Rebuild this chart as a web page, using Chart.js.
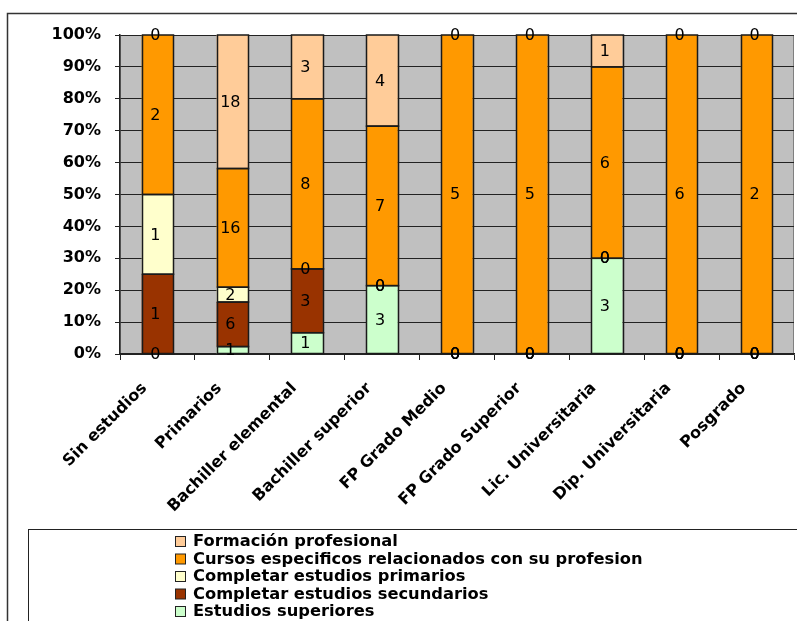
<!DOCTYPE html>
<html>
<head>
<meta charset="utf-8">
<script src="https://cdn.jsdelivr.net/npm/chart.js@4/dist/chart.umd.min.js"></script>
<style>
  html, body { margin: 0; padding: 0; background: #fff; }
  canvas { display: block; }
</style>
</head>
<body>
<canvas id="chart" width="797" height="621"></canvas>
<script>
const categories = [
  'Sin estudios', 'Primarios', 'Bachiller elemental', 'Bachiller superior',
  'FP Grado Medio', 'FP Grado Superior', 'Lic. Universitaria',
  'Dip. Universitaria', 'Posgrado'
]

// counts per category, stacked bottom to top
const estudiosSuperiores   = [0, 1, 1, 3, 0, 0, 3, 0, 0]
const estudiosSecundarios  = [1, 6, 3, 0, 0, 0, 0, 0, 0]
const estudiosPrimarios    = [1, 2, 0, 0, 0, 0, 0, 0, 0]
const cursosEspecificos    = [2, 16, 8, 7, 5, 5, 6, 6, 2]
const formacionProfesional = [0, 18, 3, 4, 0, 0, 1, 0, 0]

const seriesNames = [
  'Estudios superiores',
  'Completar estudios secundarios',
  'Completar estudios primarios',
  'Cursos especificos relacionados con su profesion',
  'Formación profesional',
]
const seriesValues = [
  estudiosSuperiores, estudiosSecundarios, estudiosPrimarios,
  cursosEspecificos, formacionProfesional,
]
const seriesColors = ['#ccffcc', '#993300', '#ffffcc', '#ff9900', '#ffcc99']

const yTicks = [0, 10, 20, 30, 40, 50, 60, 70, 80, 90, 100]

const FONT = 'DejaVu Sans'

const totals = categories.map((_, i) => seriesValues.reduce((s, arr) => s + arr[i], 0))

const datasets = seriesValues.map((vals, k) => ({
  label: seriesNames[k],
  raw: vals,
  data: vals.map((v, i) => totals[i] ? v / totals[i] * 100 : 0),
  backgroundColor: seriesColors[k],
  borderWidth: 0,
  categoryPercentage: 1,
  barPercentage: 0.42,
}))

// grey plot background and outer frames
const framePlugin = {
  id: 'frame',
  beforeDraw(chart) {
    const { ctx, chartArea: { left, right, top, bottom } } = chart
    ctx.save()
    ctx.fillStyle = '#fff'
    ctx.fillRect(0, 0, chart.width, chart.height)
    ctx.strokeStyle = '#333'
    ctx.lineWidth = 1.5
    ctx.strokeRect(7.5, 13.5, 900, 900)
    ctx.fillStyle = '#c0c0c0'
    ctx.fillRect(left, top, right - left, bottom - top)
    ctx.strokeStyle = '#808080'
    ctx.lineWidth = 1
    ctx.strokeRect(left + 0.5, top + 0.5, right - left - 1, bottom - top)
    ctx.restore()
  },
}

// segment outlines, then the count in the middle of each segment
const segmentDecor = {
  id: 'segmentDecor',
  afterDatasetsDraw(chart) {
    const { ctx } = chart
    ctx.save()
    ctx.strokeStyle = '#1a1a1a'
    ctx.lineWidth = 1.5
    chart.data.datasets.forEach((ds, k) => {
      chart.getDatasetMeta(k).data.forEach((bar, i) => {
        if (!ds.raw[i]) return
        const x0 = Math.round(bar.x - bar.width / 2)
        const x1 = Math.round(bar.x + bar.width / 2)
        ctx.strokeRect(x0 + 0.5, Math.min(bar.y, bar.base), x1 - x0, Math.abs(bar.base - bar.y))
      })
    })
    ctx.fillStyle = '#000'
    ctx.font = `16px ${FONT}`
    ctx.textAlign = 'center'
    ctx.textBaseline = 'middle'
    chart.data.datasets.forEach((ds, k) => {
      chart.getDatasetMeta(k).data.forEach((bar, i) => {
        const y = (bar.y + bar.base) / 2
        ctx.fillText(String(ds.raw[i]), bar.x - 2, y + 1)
      })
    })
    ctx.restore()
  },
}

// boxed legend, one entry per line, top series first
const boxLegend = {
  id: 'boxLegend',
  afterDraw(chart) {
    const { ctx } = chart
    ctx.save()
    ctx.strokeStyle = '#222'
    ctx.lineWidth = 1
    ctx.strokeRect(28.5, 529.5, 900, 200)
    ctx.font = `bold 16.3px ${FONT}`
    ctx.textBaseline = 'middle'
    const n = seriesNames.length
    for (let j = 0; j < n; j++) {
      const k = n - 1 - j
      const cy = 542 + j * 17.5
      ctx.fillStyle = seriesColors[k]
      ctx.fillRect(175.5, cy - 5.5, 10, 10)
      ctx.strokeStyle = '#222'
      ctx.strokeRect(175.5, cy - 5.5, 10, 10)
      ctx.fillStyle = '#000'
      ctx.fillText(seriesNames[k], 193, cy)
    }
    ctx.restore()
  },
}

new Chart(document.getElementById('chart'), {
  type: 'bar',
  data: { labels: categories, datasets },
  options: {
    responsive: false,
    animation: false,
    layout: { padding: { top: 35, right: 3, left: 0, bottom: 0 } },
    plugins: {
      legend: { display: false },
      tooltip: { enabled: false },
    },
    scales: {
      x: {
        stacked: true,
        offset: true,
        afterFit: (scale) => { scale.height = 267 },
        grid: {
          offset: true,
          drawOnChartArea: false,
          drawTicks: true,
          tickLength: 6,
          color: '#222',
        },
        border: { color: '#222', width: 1.5 },
        ticks: {
          color: '#000',
          font: { family: FONT, size: 16, weight: 'bold' },
          minRotation: 45,
          maxRotation: 45,
          autoSkip: false,
          padding: 19,
          labelOffset: -13,
        },
      },
      y: {
        stacked: true,
        min: 0,
        max: 100,
        afterFit: (scale) => { scale.width = 120 },
        afterBuildTicks: (scale) => { scale.ticks = yTicks.map(v => ({ value: v })) },
        grid: { color: '#222', lineWidth: 1, tickLength: 5 },
        border: { color: '#222', width: 1.5 },
        ticks: {
          color: '#000',
          padding: 14,
          font: { family: FONT, size: 16, weight: 'bold' },
          callback: v => v + '%',
        },
      },
    },
  },
  plugins: [framePlugin, segmentDecor, boxLegend],
})
</script>
</body>
</html>
